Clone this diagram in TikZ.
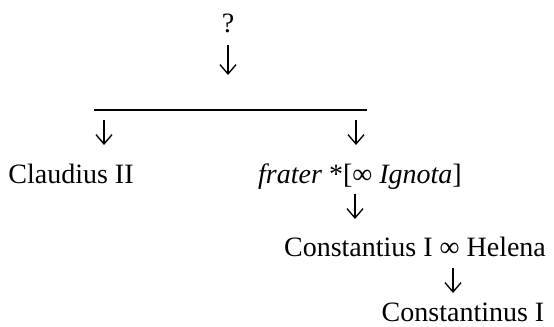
\documentclass[tikz,border=0pt]{standalone}
\usepackage{fontspec}
\setmainfont{Liberation Serif}
\usepackage{tikz}
\usetikzlibrary{positioning,arrows.meta}
\tikzset{%
  desc/.style={%
    -{Straight Barb[length=7pt,width=12pt,line width=1pt]},
    line width=0.8pt
  },
  person/.style={%
    inner sep=0pt,
    font=\fontsize{21}{25}\selectfont
  }
}

\begin{document}
\begin{tikzpicture}[x=0.75pt,y=0.75pt]
    \useasboundingbox (0,0) rectangle (554,326);

    \node[person,anchor=base] (q) at (228,294) {?};
    \draw[desc] (q.base) ++(0,-13) -- ++(0,-30);

    \coordinate (bl) at (94,216);
    \coordinate (br) at (367,216);
    \draw[line width=0.9pt] (bl) -- (br);

    \node[person,anchor=base] (claud) at (71,143) {Claudius II};
    \node[person,anchor=base] (frater) at (360,143) {\textit{frater} *[∞ \textit{Ignota}]};
    \draw[desc] (claud.base -| 104,0) ++(0,63) -- ++(0,-25);
    \draw[desc] (frater.base -| 356,0) ++(0,63) -- ++(0,-25);

    \node[person,anchor=base] (const) at (415,70) {Constantius I ∞ Helena};
    \draw[desc] (frater.base -| 355,0) ++(0,-11) -- ++(0,-25);

    \node[person,anchor=base] (constin) at (463,5) {Constantinus I};
    \draw[desc] (const.base -| 453,0) ++(0,-12) -- ++(0,-25);
\end{tikzpicture}
\end{document}
